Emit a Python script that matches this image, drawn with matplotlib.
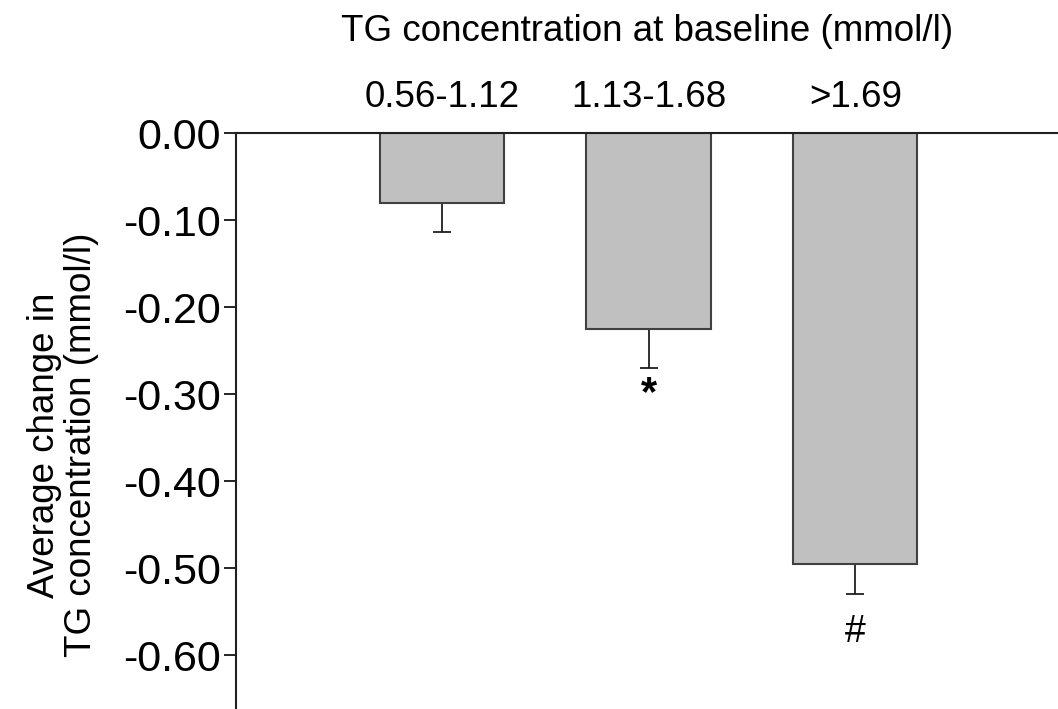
import matplotlib
matplotlib.use("Agg")
import matplotlib.pyplot as plt

categories = ["0.56-1.12", "1.13-1.68", ">1.69"]
values = [-0.080, -0.225, -0.495]
errors = [0.034, 0.045, 0.035]
marks = ["", "*", "#"]
mark_y = [None, -0.300, -0.574]
yticks = [0.0, -0.1, -0.2, -0.3, -0.4, -0.5, -0.6]
ytick_labels = ["0.00", "-0.10", "-0.20", "-0.30", "-0.40", "-0.50", "-0.60"]

plt.rcParams['font.family'] = ['Liberation Sans', 'DejaVu Sans']

fig = plt.figure(figsize=(10.58, 7.09), dpi=100)
ax = fig.add_axes([0.223, 0.0, 0.777, 0.8124])

x = list(range(len(categories)))
ax.bar(x, values, width=0.6, color="#c0c0c0", edgecolor="#404040", linewidth=1.5, zorder=2)
ax.errorbar(x, values, yerr=[errors, [0]*3], fmt="none", ecolor="#202020",
            elinewidth=1.3, capsize=6.5, capthick=1.3, zorder=1)

for xi, m, my in zip(x, marks, mark_y):
    if m:
        ax.text(xi, my, m, ha="center", va="center", fontsize=30 if m == "*" else 27,
                fontweight="bold" if m == "*" else "normal")

ax.set_xlim(-0.995, 2.98)
ax.set_ylim(-0.662, 0)

ax.set_yticks(yticks)
ax.set_yticklabels(ytick_labels, fontsize=31)
ax.tick_params(axis="y", direction="out", length=8.5, width=1.2, pad=2)

ax.xaxis.tick_top()
ax.set_xticks(x)
ax.set_xticklabels(categories, fontsize=26.5)
ax.tick_params(axis="x", direction="in", length=3, width=1, pad=13)
ax.xaxis.set_label_position("top")
ax.set_xlabel("TG concentration at baseline (mmol/l)", fontsize=26.5, labelpad=28)

fig.text(0.0595, 0.3724, "Average change in\nTG concentration (mmol/l)", rotation=90,
         ha="center", va="center", fontsize=26.5, linespacing=1.05)

for s in ["right", "bottom"]:
    ax.spines[s].set_visible(False)
for s in ["left", "top"]:
    ax.spines[s].set_linewidth(1.5)
    ax.spines[s].set_color("#202020")

fig.savefig("out.png", dpi=100)
